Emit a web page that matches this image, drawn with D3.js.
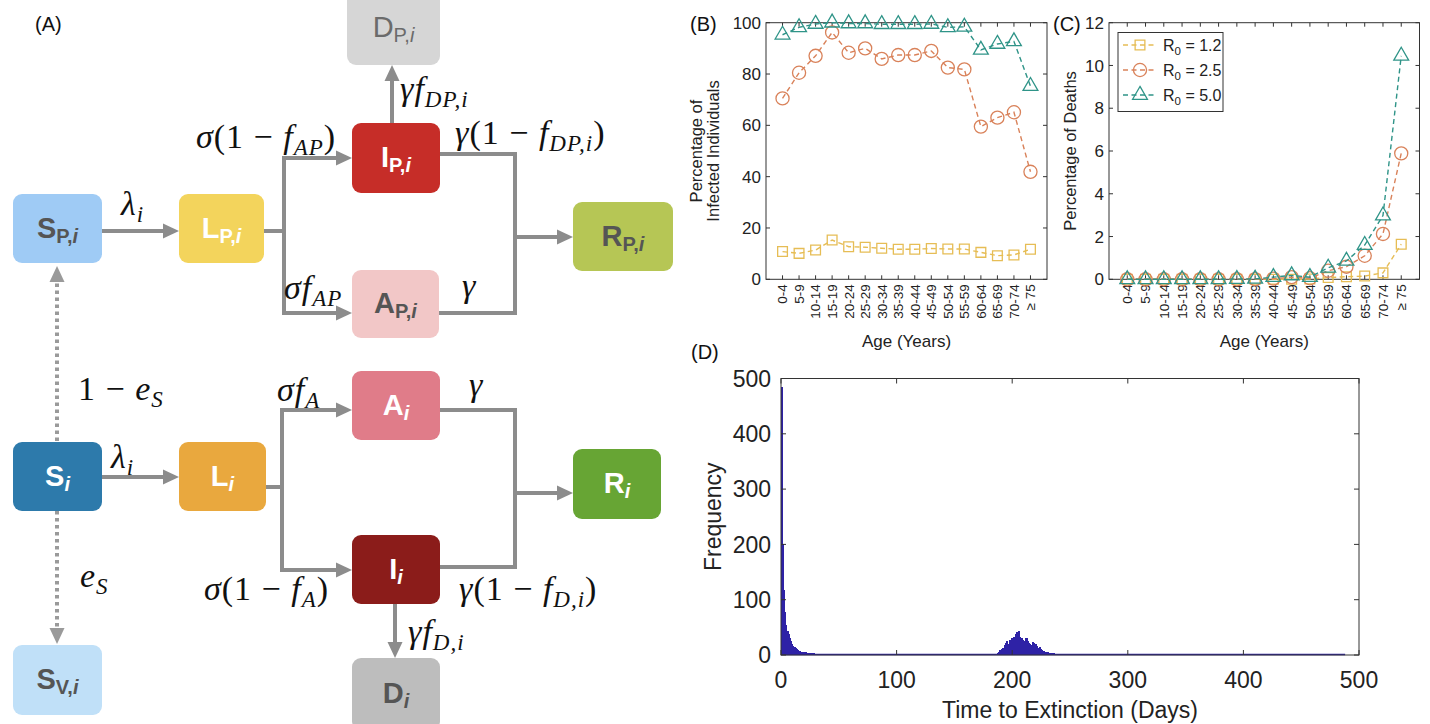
<!DOCTYPE html>
<html><head><meta charset="utf-8">
<script src="https://cdn.jsdelivr.net/npm/d3@7"></script>
<style>
body{margin:0;background:#fff}
svg{display:block}
text{font-family:"Liberation Sans",Arial,Helvetica,sans-serif}
</style>
</head><body>
<svg id="c" width="1430" height="724"></svg>
<script>
// ---------------- DATA ----------------
const ageGroups = ["0-4","5-9","10-14","15-19","20-24","25-29","30-34","35-39","40-44","45-49","50-54","55-59","60-64","65-69","70-74","\u2265 75"];
const seriesNames = ["1.2","2.5","5.0"];
const infectedR12 = [10.8,10.1,11.4,15.3,12.7,12.5,12.1,11.7,11.7,12.0,11.8,11.8,10.5,9.2,9.5,11.7];
const infectedR25 = [70.5,80.5,87.1,96.2,88.3,90.0,85.9,87.4,87.4,89.0,82.5,81.8,59.5,63.0,65.1,41.9];
const infectedR50 = [95.3,98.2,99.5,100,99.7,99.7,99.4,99.4,99.4,99.5,98.2,98.4,89.4,91.7,92.7,75.3];
const deathsR12 = [0,0,0,0,0,0,0,0,0,0,0.01,0.08,0.12,0.15,0.3,1.64];
const deathsR25 = [0,0,0,0,0,0,0,0.01,0.03,0.1,0.05,0.4,0.59,1.1,2.12,5.89];
const deathsR50 = [0,0,0,0,0,0,0.01,0.02,0.1,0.18,0.1,0.54,0.86,1.6,2.98,10.45];
const infectedTicks = [0,20,40,60,80,100];
const deathTicks = [0,2,4,6,8,10,12];

// histogram of time to extinction (1-day bins)
const histEarlyStart = 0;
const histEarlyCounts = [484,201,117,78,55,44,38,30,26,20,16,14,12,10,9,8,7,6,6,5,5,5,4,4,3,3,3,2,3,2,2,2,1,2,1,1,1,1,0,1,1,0,1,0,1,0,1];
const histHumpStart = 184;
const histHumpCounts = [1,2,2,3,5,9,11,12,13,18,22,26,20,28,24,30,26,33,38,42,41,43,33,28,30,27,25,31,30,26,22,20,18,23,21,17,19,16,12,14,10,9,8,7,6,5,5,4,4,3,3,3,2,2,2,1,2,1,1,1,0,1];
const histSparseDays = [52,57,128,134,152,160,177,249,253,258,263,267,271,276,283,292];
const histLastDay = 488;
const extinctionTicks = [0,100,200,300,400,500];
const frequencyTicks = [0,100,200,300,400,500];

// compartment model (panel A)
const compartments = [
  {id:"SP", main:"S", sub:"P,", it:"i"},
  {id:"LP", main:"L", sub:"P,", it:"i"},
  {id:"IP", main:"I", sub:"P,", it:"i"},
  {id:"DP", main:"D", sub:"P,", it:"i"},
  {id:"AP", main:"A", sub:"P,", it:"i"},
  {id:"RP", main:"R", sub:"P,", it:"i"},
  {id:"S",  main:"S", sub:"", it:"i"},
  {id:"L",  main:"L", sub:"", it:"i"},
  {id:"A",  main:"A", sub:"", it:"i"},
  {id:"I",  main:"I", sub:"", it:"i"},
  {id:"R",  main:"R", sub:"", it:"i"},
  {id:"D",  main:"D", sub:"", it:"i"},
  {id:"SV", main:"S", sub:"V,", it:"i"}
];

// ---------------- LAYOUT / STYLE ----------------
const svg = d3.select("#c");
const FONT = "'Liberation Sans',Arial,Helvetica,sans-serif";
const SERIF = "'Liberation Serif','Times New Roman',serif";

const boxLayout = {
  SP:[13,194,102,263, "#9fcbf5", "#555", true],
  LP:[179,194,264,263, "#f3d45c", "#fff", true],
  IP:[352,123,440,193, "#c62d28", "#fff", true],
  DP:[347,-10,440,65, "#d6d6d6", "#6b6b6b", false],
  AP:[352,270,439,338, "#f2c7c7", "#555", true],
  RP:[573,202,673,271, "#b6c655", "#555", true],
  S: [13,442,102,511, "#2d7aab", "#fff", true],
  L: [179,442,266,511, "#e9a83e", "#fff", true],
  A: [352,371,440,440, "#e07c89", "#fff", true],
  I: [352,535,440,604, "#8b1c1a", "#fff", true],
  R: [573,449,661,519, "#67a534", "#fff", true],
  D: [352,658,440,730, "#bdbdbd", "#555", true],
  SV:[13,645,102,715, "#c0e0f8", "#555", true]
};

// ---------------- PANEL A ----------------
const gA = svg.append("g");
const grey = "#8c8c8c";
compartments.forEach(c => {
  const [x0,y0,x1,y1,fill,tc,bold] = boxLayout[c.id];
  gA.append("rect").attr("x",x0).attr("y",y0).attr("width",x1-x0).attr("height",y1-y0)
    .attr("rx",9).attr("fill",fill);
  const t = gA.append("text").attr("x",(x0+x1)/2).attr("y",(y0+y1)/2+9)
    .attr("text-anchor","middle").attr("fill",tc).style("font-family",FONT)
    .style("font-weight",bold?"bold":"normal");
  t.append("tspan").text(c.main).style("font-size","29px");
  if (c.sub) {
    t.append("tspan").attr("dy",5).text(c.sub).style("font-size","20px");
    t.append("tspan").text(c.it).style("font-size","20px").style("font-style","italic");
  } else {
    t.append("tspan").attr("dy",5).text(c.it).style("font-size","20px").style("font-style","italic");
  }
});

function polyline(pts, dotted){
  gA.append("path").attr("d", d3.line()(pts)).attr("fill","none")
    .attr("stroke", dotted ? "#9a9a9a" : grey).attr("stroke-width",4)
    .attr("stroke-dasharray", dotted ? "3.5,3.5" : null);
}
function head(x,y,dir,col){
  const L=16, W=7.5;
  let p;
  if(dir==="r") p=[[x,y],[x-L,y-W],[x-L,y+W]];
  if(dir==="u") p=[[x,y],[x-W,y+L],[x+W,y+L]];
  if(dir==="d") p=[[x,y],[x-W,y-L],[x+W,y-L]];
  gA.append("path").attr("d","M"+p.join("L")+"Z").attr("fill",col||grey);
}
// upper (previously infected / protected) branch
polyline([[102,231],[165,231]]); head(179,231,"r");
polyline([[264,231],[284,231]]);
polyline([[284,156],[284,315]]);
polyline([[282,158],[338,158]]); head(352,158,"r");
polyline([[282,313],[338,313]]); head(352,313,"r");
polyline([[440,154],[515,154],[515,313],[439,313]]);
polyline([[515,237],[559,237]]); head(573,237,"r");
polyline([[392,123],[392,80]]); head(392,65,"u");
// lower branch
polyline([[102,477],[165,477]]); head(179,477,"r");
polyline([[266,487],[282,487]]);
polyline([[282,408],[282,572]]);
polyline([[280,410],[338,410]]); head(352,410,"r");
polyline([[280,570],[338,570]]); head(352,570,"r");
polyline([[440,410],[515,410],[515,567],[440,567]]);
polyline([[515,493],[559,493]]); head(573,493,"r");
polyline([[395,604],[395,644]]); head(395,658,"d");
// vaccination (dotted)
polyline([[57,441],[57,282]], true); head(57,266,"u","#9a9a9a");
polyline([[57,511],[57,629]], true); head(57,644,"d","#9a9a9a");

// math labels
function mathLabel(x,y,segs){
  const t = gA.append("text").attr("x",x).attr("y",y).attr("fill","#111")
    .style("font-family",SERIF).style("font-size","34px").style("letter-spacing","1px");
  let sub=false;
  segs.forEach(([s,st])=>{
    const isSub = st[0]==="s";
    const sp = t.append("tspan").text(s);
    if(isSub && !sub) sp.attr("dy",7);
    if(!isSub && sub) sp.attr("dy",-7);
    sub = isSub;
    sp.style("font-size", isSub ? "23px" : "34px")
      .style("font-style", st.endsWith("i") ? "italic" : "normal");
  });
}
mathLabel(121,215,[["\u03bb","i"],["i","si"]]);
mathLabel(196,148,[["\u03c3","i"],["(1 \u2212 ","r"],["f","i"],["AP","si"],[")","r"]]);
mathLabel(284,299,[["\u03c3","i"],["f","i"],["AP","si"]]);
mathLabel(400,100,[["\u03b3","i"],["f","i"],["DP,i","si"]]);
mathLabel(455,144,[["\u03b3","i"],["(1 \u2212 ","r"],["f","i"],["DP,i","si"],[")","r"]]);
mathLabel(462,297,[["\u03b3","i"]]);
mathLabel(78,400,[["1 \u2212 ","r"],["e","i"],["S","si"]]);
mathLabel(80,587,[["e","i"],["S","si"]]);
mathLabel(111,468,[["\u03bb","i"],["i","si"]]);
mathLabel(277,401,[["\u03c3","i"],["f","i"],["A","si"]]);
mathLabel(469,396,[["\u03b3","i"]]);
mathLabel(204,600,[["\u03c3","i"],["(1 \u2212 ","r"],["f","i"],["A","si"],[")","r"]]);
mathLabel(459,600,[["\u03b3","i"],["(1 \u2212 ","r"],["f","i"],["D,i","si"],[")","r"]]);
mathLabel(408,643,[["\u03b3","i"],["f","i"],["D,i","si"]]);

// panel letters
function panelLetter(x,y,s){
  svg.append("text").attr("x",x).attr("y",y).text(s).style("font-size","20px").attr("fill","#111");
}
panelLetter(35,31,"(A)");
panelLetter(690,31,"(B)");
panelLetter(1053,31,"(C)");
panelLetter(691,359,"(D)");

// ---------------- PANELS B & C ----------------
const seriesStyle = [
  {color:"#e6bd55", sym:d3.symbolSquare, size:95},
  {color:"#d9825a", sym:d3.symbolCircle, size:135},
  {color:"#2f9488", sym:d3.symbolTriangle, size:95}
];
const axisCol = "#333";

function agePanel(left,right,top,bottom,yMax,yTicks,seriesData,yLabelLines,yLabelX){
  const g = svg.append("g");
  const x = d3.scalePoint().domain(ageGroups).range([left,right]).padding(1);
  const y = d3.scaleLinear().domain([0,yMax]).range([bottom,top]);
  g.append("rect").attr("x",left).attr("y",top).attr("width",right-left).attr("height",bottom-top)
    .attr("fill","none").attr("stroke",axisCol).attr("stroke-width",1);
  yTicks.forEach(v=>{
    g.append("line").attr("x1",left).attr("x2",left+4).attr("y1",y(v)).attr("y2",y(v)).attr("stroke",axisCol);
    g.append("line").attr("x1",right).attr("x2",right-4).attr("y1",y(v)).attr("y2",y(v)).attr("stroke",axisCol);
    g.append("text").attr("x",left-5).attr("y",y(v)).attr("dy","0.36em").attr("text-anchor","end")
      .style("font-size","17px").attr("fill","#222").text(v);
  });
  ageGroups.forEach(a=>{
    g.append("line").attr("x1",x(a)).attr("x2",x(a)).attr("y1",bottom).attr("y2",bottom-4).attr("stroke",axisCol);
    g.append("line").attr("x1",x(a)).attr("x2",x(a)).attr("y1",top).attr("y2",top+4).attr("stroke",axisCol);
    g.append("text").attr("transform",`translate(${x(a)},${bottom+5}) rotate(-90)`)
      .attr("dy","0.36em").attr("text-anchor","end").style("font-size","13.5px").attr("fill","#222").text(a);
  });
  seriesData.forEach((vals,si)=>{
    const st = seriesStyle[si];
    const line = d3.line().x((d,i)=>x(ageGroups[i])).y(d=>y(d));
    g.append("path").attr("d",line(vals)).attr("fill","none").attr("stroke",st.color)
      .attr("stroke-width",1.4).attr("stroke-dasharray","5,3.5");
    g.selectAll(null).data(vals).enter().append("path")
      .attr("transform",(d,i)=>`translate(${x(ageGroups[i])},${y(d)})`)
      .attr("d",d3.symbol(st.sym,st.size)).attr("fill","none").attr("stroke",st.color).attr("stroke-width",1.3);
  });
  yLabelLines.forEach((s,i)=>{
    g.append("text").attr("transform",`translate(${yLabelX[i]},${(top+bottom)/2}) rotate(-90)`)
      .attr("text-anchor","middle").style("font-size","16.5px").attr("fill","#222").text(s);
  });
  g.append("text").attr("x",(left+right)/2).attr("y",347).attr("text-anchor","middle")
    .style("font-size","17px").attr("fill","#222").text("Age (Years)");
  return {g,x,y};
}

agePanel(766,1047,22.7,279.3,100,infectedTicks,[infectedR12,infectedR25,infectedR50],
  ["Percentage of","Infected Individuals"],[702,719]);
agePanel(1109,1419.5,22.7,279.3,12,deathTicks,[deathsR12,deathsR25,deathsR50],
  ["Percentage of Deaths"],[1076]);

// legend in C
const lg = svg.append("g");
lg.append("rect").attr("x",1118).attr("y",32.5).attr("width",105).attr("height",79)
  .attr("fill","#fff").attr("stroke",axisCol).attr("stroke-width",1);
seriesNames.forEach((nm,i)=>{
  const st = seriesStyle[i];
  const yy = 45 + i*25;
  lg.append("line").attr("x1",1123).attr("x2",1157).attr("y1",yy).attr("y2",yy)
    .attr("stroke",st.color).attr("stroke-width",1.4).attr("stroke-dasharray","5,3.5");
  lg.append("path").attr("transform",`translate(1140,${yy})`).attr("d",d3.symbol(st.sym,st.size))
    .attr("fill","none").attr("stroke",st.color).attr("stroke-width",1.3);
  const t = lg.append("text").attr("x",1163).attr("y",yy+5.5).style("font-size","16px").attr("fill","#222");
  t.append("tspan").text("R");
  t.append("tspan").attr("dy",4).style("font-size","11.5px").text("0");
  t.append("tspan").attr("dy",-4).text(" = " + nm);
});

// ---------------- PANEL D ----------------
const gD = svg.append("g");
const dl=781, dr=1359, dt=378.5, db=655;
const xD = d3.scaleLinear().domain([0,500]).range([dl,dr]);
const yD = d3.scaleLinear().domain([0,500]).range([db,dt]);
const counts = new Map();
histEarlyCounts.forEach((c,i)=>counts.set(histEarlyStart+i,c));
histHumpCounts.forEach((c,i)=>counts.set(histHumpStart+i,c));
histSparseDays.forEach(d=>counts.set(d,(counts.get(d)||0)+1));
const bins = Array.from(counts, ([day,c])=>({day,c})).filter(b=>b.c>0);
const histCol = "#2e22a6";
gD.append("line").attr("x1",xD(0)).attr("x2",xD(histLastDay)).attr("y1",db-0.5).attr("y2",db-0.5)
  .attr("stroke",histCol).attr("stroke-width",1.3);
gD.selectAll(null).data(bins).enter().append("rect")
  .attr("x",b=>xD(b.day)).attr("width",b=>xD(b.day+1)-xD(b.day)+0.7)
  .attr("y",b=>yD(b.c)).attr("height",b=>db-yD(b.c)).attr("fill",histCol)
  .attr("shape-rendering","crispEdges");
gD.append("rect").attr("x",dl).attr("y",dt).attr("width",dr-dl).attr("height",db-dt)
  .attr("fill","none").attr("stroke",axisCol).attr("stroke-width",1);
frequencyTicks.forEach(v=>{
  gD.append("line").attr("x1",dl).attr("x2",dl+5).attr("y1",yD(v)).attr("y2",yD(v)).attr("stroke",axisCol);
  gD.append("line").attr("x1",dr).attr("x2",dr-5).attr("y1",yD(v)).attr("y2",yD(v)).attr("stroke",axisCol);
  gD.append("text").attr("x",771).attr("y",yD(v)).attr("dy","0.36em").attr("text-anchor","end")
    .style("font-size","23px").attr("fill","#222").text(v);
});
extinctionTicks.forEach(v=>{
  gD.append("line").attr("x1",xD(v)).attr("x2",xD(v)).attr("y1",db).attr("y2",db-5).attr("stroke",axisCol);
  gD.append("line").attr("x1",xD(v)).attr("x2",xD(v)).attr("y1",dt).attr("y2",dt+5).attr("stroke",axisCol);
  gD.append("text").attr("x",xD(v)).attr("y",688).attr("text-anchor","middle")
    .style("font-size","23px").attr("fill","#222").text(v);
});
gD.append("text").attr("transform",`translate(721,${(dt+db)/2}) rotate(-90)`).attr("text-anchor","middle")
  .style("font-size","23px").attr("fill","#222").text("Frequency");
gD.append("text").attr("x",(dl+dr)/2).attr("y",718).attr("text-anchor","middle")
  .style("font-size","23px").attr("fill","#222").text("Time to Extinction (Days)");
</script>
</body></html>
